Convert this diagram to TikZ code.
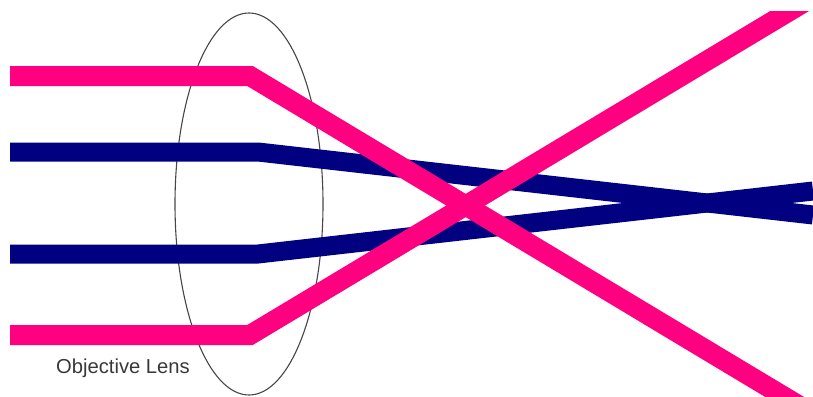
\documentclass[tikz,border=0pt]{standalone}
\usepackage{fontspec}
\setmainfont{Liberation Sans}
\definecolor{rayPink}{RGB}{255,0,128}
\definecolor{rayBlue}{RGB}{0,0,128}
\definecolor{lensGray}{RGB}{70,70,70}
\begin{document}
\begin{tikzpicture}[x=1pt,y=-1pt,
  pinkray/.style={draw=rayPink,line width=20pt,line join=miter,line cap=butt},
  blueray/.style={draw=rayBlue,line width=19pt,line join=miter,line cap=butt},
  lensline/.style={draw=lensGray,line width=1.1pt},
  lbl/.style={font=\fontsize{20.2}{22}\selectfont,text=black!78,inner sep=0pt,anchor=west}]
\useasboundingbox (0,0) rectangle (813,396);
% lens
\draw[lensline] (249,204) ellipse [x radius=74, y radius=191];
% coordinates
\coordinate (tpA) at (10,76);   \coordinate (tpB) at (250,76);  \coordinate (tpC) at (813,414);
\coordinate (bpA) at (10,335);  \coordinate (bpB) at (250,335); \coordinate (bpC) at (813,-3);
\coordinate (tbA) at (10,152);  \coordinate (tbB) at (258,152); \coordinate (tbC) at (813,215);
\coordinate (bbA) at (10,254);  \coordinate (bbB) at (258,254); \coordinate (bbC) at (813,191);
\begin{scope}
\clip (0,12) rectangle (813,396);
\draw[blueray] (tbA) -- (tbB) -- (tbC);
\draw[blueray] (bbA) -- (bbB) -- (bbC);
\draw[pinkray] (tpA) -- (tpB) -- (tpC);
\draw[pinkray] (bpA) -- (bpB) -- (bpC);
\end{scope}
\node[lbl] (lenslabel) at (56,368) {Objective Lens};
\end{tikzpicture}
\end{document}
